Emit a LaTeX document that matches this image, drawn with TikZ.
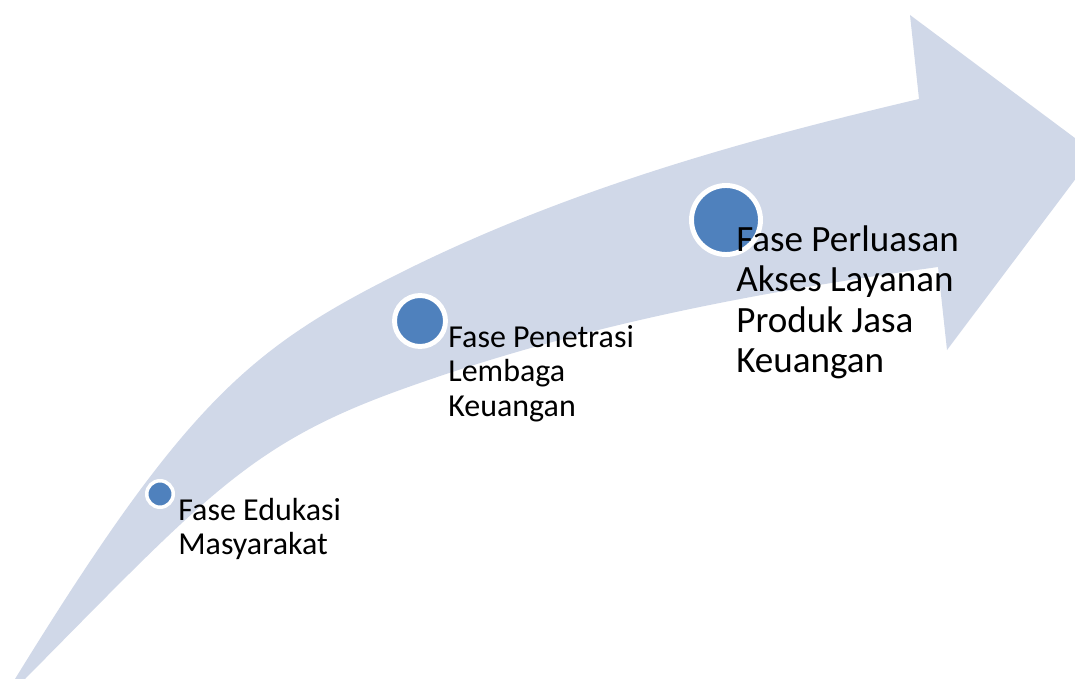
\documentclass[tikz,border=0pt]{standalone}
\usepackage{fontspec}
\setmainfont{Carlito}
\definecolor{arrowfill}{RGB}{208,216,232}
\definecolor{dotblue}{RGB}{79,129,189}
\tikzset{
  phasedot/.style={circle, fill=dotblue, draw=white, inner sep=0pt},
  smalllabel/.style={anchor=base west, inner sep=0pt, font=\fontsize{18.2}{19.85}\selectfont},
  biglabel/.style={anchor=base west, inner sep=0pt, font=\fontsize{21.1}{23.1}\selectfont},
}
\begin{document}
\begin{tikzpicture}[x=0.02cm,y=-0.02cm]
\clip (0,0) rectangle (1075,679);
\fill[white] (0,0) rectangle (1075,679);
% curved arrow
\fill[arrowfill] (15,679)
  .. controls (185,403) and (250,348) .. (400,273)
  .. controls (570,188) and (749,139) .. (919,99)
  -- (910,15) -- (1095,153) -- (947,350) -- (938,267)
  .. controls (758,292) and (580,325) .. (400,390)
  .. controls (250,444) and (205,497) .. (25,679)
  -- (18,690) -- cycle;
% phase dots
\node[phasedot, minimum size=0.53cm, line width=2pt] (d1) at (160,494) {};
\node[phasedot, minimum size=1.02cm, line width=2.8pt] (d2) at (420,321) {};
\node[phasedot, minimum size=1.38cm, line width=2.8pt] (d3) at (726,220) {};
% labels
\node[smalllabel] (l1) at (178,520) {\vtop{\hbox{Fase Edukasi}\hbox{Masyarakat}}};
\node[smalllabel] (l2) at (448,347) {\vtop{\hbox{Fase Penetrasi}\hbox{Lembaga}\hbox{Keuangan}}};
\node[biglabel] (l3) at (736,251) {\vtop{\hbox{Fase Perluasan}\hbox{Akses Layanan}\hbox{Produk Jasa}\hbox{Keuangan}}};
\end{tikzpicture}
\end{document}
